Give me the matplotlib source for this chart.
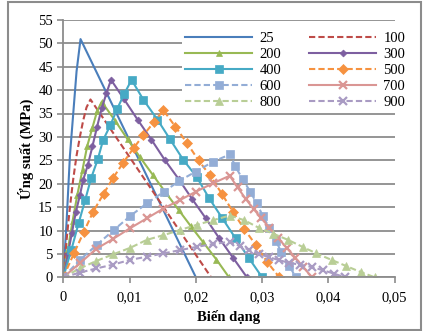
import matplotlib
matplotlib.use("Agg")
import matplotlib.pyplot as plt
from matplotlib.patches import Rectangle
from matplotlib.ticker import FuncFormatter

# ---- data ----
labels = ["25", "100", "200", "300", "400", "500", "600", "700", "800", "900"]

x25 = [0, 0.0005, 0.001, 0.0015, 0.002, 0.0026, 0.02]
y25 = [0, 12, 26, 35, 44, 50.9, 0]

x100 = [0, 0.0005, 0.001, 0.0015, 0.002, 0.0025, 0.003, 0.0035, 0.0041, 0.0223]
y100 = [0, 8, 15, 21, 26, 30, 33.5, 36.3, 38, 0]

x200 = [0, 0.0007, 0.0014, 0.0021, 0.0029, 0.0036, 0.0044, 0.0051, 0.0058,
        0.0078, 0.0097, 0.0116, 0.0135, 0.0155, 0.0174, 0.0192, 0.0211, 0.0231, 0.025]
y200 = [0, 6, 12, 17.5, 23, 28, 32, 35.5, 37.5,
        33.5, 29.5, 25.6, 21.9, 18, 14.4, 11, 7.5, 3.8, 0]

x300 = [0, 0.0007, 0.0013, 0.0019, 0.0025, 0.003, 0.0037, 0.0044, 0.0051, 0.0058, 0.0065, 0.0072,
        0.0091, 0.0112, 0.0133, 0.0153, 0.0174, 0.0194, 0.0215, 0.0235, 0.0256, 0.0277]
y300 = [0, 5, 9.5, 14, 17.5, 20.8, 24, 28, 32.2, 36.1, 39.3, 42.2,
        38.2, 33.7, 29.4, 25.1, 21.0, 16.8, 12.6, 8.4, 4.2, 0]

x400 = [0, 0.0012, 0.0023, 0.0033, 0.0042, 0.0052, 0.006, 0.0071, 0.0081, 0.0092, 0.0103,
        0.0121, 0.0142, 0.0161, 0.0181, 0.0201, 0.022, 0.024, 0.026, 0.028, 0.030]
y400 = [0, 5.8, 11.5, 16.5, 21.2, 25.2, 29.3, 32.5, 35.9, 39.2, 42.2,
        37.9, 33.7, 29.5, 25.1, 21.5, 16.9, 12.6, 8.3, 4.1, 0]

x500 = [0, 0.0016, 0.0031, 0.0045, 0.0061, 0.0075, 0.009, 0.0106, 0.0121, 0.0137, 0.0151,
        0.0169, 0.0187, 0.0204, 0.0221, 0.0239, 0.0256, 0.0273, 0.029, 0.0308, 0.0326]
y500 = [0, 5.1, 9.7, 14, 17.9, 21.2, 24.4, 27.6, 30.4, 33.2, 35.7,
        32.2, 28.6, 25, 21.8, 17.9, 14, 10.3, 7, 3.2, 0]

x600 = [0, 0.0025, 0.0051, 0.0077, 0.0101, 0.0127, 0.0152, 0.0175, 0.02, 0.0226, 0.0252,
        0.0259, 0.0271, 0.0282, 0.0292, 0.0301, 0.0311, 0.0321, 0.0329, 0.0341, 0.0351]
y600 = [0, 3.7, 7, 10.2, 13.1, 15.9, 18.3, 20.6, 22.6, 24.7, 26.3,
        23.8, 20.9, 18.3, 15.8, 13.1, 10.5, 7.8, 5.3, 2.4, 0]

x700 = [0, 0.0025, 0.005, 0.0075, 0.0101, 0.0126, 0.0151, 0.0176, 0.02, 0.0226, 0.0251,
        0.0263, 0.0275, 0.0287, 0.0299, 0.0311, 0.0324, 0.0337, 0.035, 0.0362, 0.0375]
y700 = [0, 3.0, 6.1, 8.2, 10.5, 12.6, 14.7, 16.5, 18.3, 20.1, 21.7,
        19.2, 16.8, 14.6, 12.6, 10.6, 8.4, 6.3, 4.2, 2.2, 0]

x800 = [0, 0.0025, 0.005, 0.0075, 0.0101, 0.0126, 0.0151, 0.0176, 0.0201, 0.0226, 0.0251,
        0.0273, 0.0296, 0.0317, 0.0339, 0.0361, 0.0382, 0.0405, 0.0427, 0.0449, 0.047]
y800 = [0, 1.9, 3.5, 4.9, 6.3, 8.0, 9.0, 10.1, 11.2, 12.2, 13.2,
        12.2, 10.5, 9.3, 8.0, 6.5, 5.1, 3.7, 2.4, 1.1, 0]

x900 = [0, 0.0025, 0.005, 0.0075, 0.01, 0.0126, 0.0151, 0.0176, 0.0201, 0.0226, 0.0251,
        0.0266, 0.028, 0.0295, 0.031, 0.0325, 0.034, 0.0357, 0.0375, 0.0392, 0.0408, 0.0425]
y900 = [0, 1.0, 1.9, 2.7, 3.7, 4.4, 5.1, 5.8, 6.5, 7.1, 7.6,
        6.7, 5.9, 5.0, 4.3, 3.7, 3.1, 2.7, 2.2, 1.5, 0.8, 0]

xs = [x25, x100, x200, x300, x400, x500, x600, x700, x800, x900]
ys = [y25, y100, y200, y300, y400, y500, y600, y700, y800, y900]

xticks = [0, 0.01, 0.02, 0.03, 0.04, 0.05]
yticks = list(range(0, 60, 5))

# ---- styles ----
colors = ["#4A7EBB", "#BE4B48", "#98B954", "#7D5FA0", "#46AAC5",
          "#F69240", "#93ADD6", "#DA9694", "#B9CE96", "#A99BC3"]
styles = ["-", "--", "-", "-", "-", "--", "--", "-", "--", "--"]
markers = [None, None, "^", "D", "s", "D", "s", "x", "^", "x"]
msizes = [0, 0, 5, 3.5, 5.5, 5.5, 5.5, 6, 5.5, 6]

plt.rcParams['font.family'] = ['Liberation Serif', 'DejaVu Serif']

fig = plt.figure(figsize=(4.24, 3.31), dpi=100)
ax = fig.add_axes([63.3 / 424, 1 - 277.3 / 331, (394.7 - 63.3) / 424, (277.3 - 19.9) / 331])

handles = []
for x, y, c, ls, m, ms, lab in zip(xs, ys, colors, styles, markers, msizes, labels):
    kw = dict(color=c, linestyle=ls, linewidth=1.5, label=lab)
    if m is not None:
        kw.update(marker=m, markersize=ms, markerfacecolor=c, markeredgecolor=c,
                  markeredgewidth=1.6 if m == "x" else 0.5)
    if ls == "--":
        kw.update(dashes=(3, 1.5))
    h, = ax.plot(x, y, **kw)
    handles.append(h)

ax.set_xlim(0, 0.05)
ax.set_ylim(0, 55)
ax.set_xticks(xticks)
ax.set_yticks(yticks)
ax.xaxis.set_major_formatter(FuncFormatter(lambda v, p: "0" if v == 0 else ("%g" % round(v, 3)).replace(".", ",")))
ax.yaxis.grid(True, color="#8C8C8C", linewidth=1.3)
ax.set_axisbelow(True)
for s in ["top", "right"]:
    ax.spines[s].set_visible(False)
for s in ["left", "bottom"]:
    ax.spines[s].set_color("#8C8C8C")
    ax.spines[s].set_linewidth(1.3)
ax.tick_params(axis="both", colors="#8C8C8C", labelcolor="black", labelsize=10.5,
               length=4, width=1.2, direction="out")
ax.tick_params(axis="x", pad=6)

ax.set_xlabel("Biến dạng", fontsize=10.5, fontweight="bold", labelpad=4)
ax.set_ylabel("Ứng suất (MPa)", fontsize=10.5, fontweight="bold", labelpad=3)

# row-wise legend order (Excel style): reorder for column-wise filling
order = [0, 2, 4, 6, 8, 1, 3, 5, 7, 9]
leg = ax.legend([handles[i] for i in order], [labels[i] for i in order],
                ncol=2, loc="upper left", bbox_to_anchor=(175 / 424, 1 - 22 / 331),
                bbox_transform=fig.transFigure, frameon=True, fontsize=10.5,
                handlelength=4.6, handletextpad=0.5, columnspacing=1.9,
                labelspacing=0.18, borderpad=0.2, numpoints=1)
leg.get_frame().set_facecolor("white")
leg.get_frame().set_edgecolor("white")
leg.get_frame().set_linewidth(0)
leg.get_frame().set_alpha(1)

fig.patches.append(Rectangle((7.5 / 424, 1 - 329.5 / 331), (421 - 7.5) / 424, (329.5 - 2) / 331,
                             transform=fig.transFigure, fill=False, edgecolor="#8C8C8C",
                             linewidth=1.5))

fig.savefig("out.png", dpi=100)
